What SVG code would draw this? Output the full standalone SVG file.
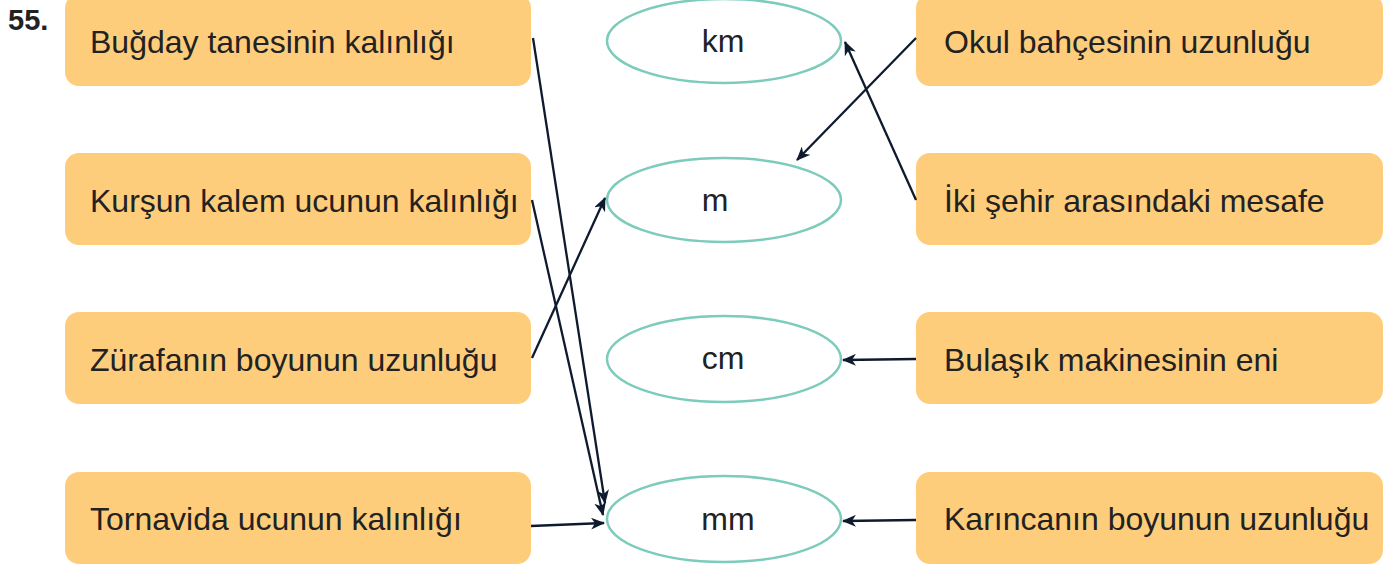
<svg xmlns="http://www.w3.org/2000/svg" width="1394" height="568" viewBox="0 0 1394 568">
<style>
.box{fill:#fecd7c;}
.lbl{font-family:"Liberation Sans",Arial,sans-serif;font-size:32px;fill:#222;}
.ell{fill:#fff;stroke:#7ccbbb;stroke-width:2.5;}
.unit{font-family:"Liberation Sans",Arial,sans-serif;font-size:32px;fill:#222;text-anchor:middle;}
.con{stroke:#0e1a2e;stroke-width:2.3;fill:none;marker-end:url(#arr);}
</style>
<defs>
<marker id="arr" viewBox="0 0 14 12" refX="13" refY="6" markerWidth="14" markerHeight="12" markerUnits="userSpaceOnUse" orient="auto">
<path d="M0,0 L14,6 L0,12 L4,6 Z" fill="#0e1a2e"/>
</marker>
</defs>
<text x="8" y="30" font-family="Liberation Sans,Arial,sans-serif" font-size="29" font-weight="bold" fill="#222">55.</text>
<g id="l1"><rect class="box" x="65" y="-6" width="466" height="92" rx="14"/><text class="lbl" x="90" y="53">Buğday tanesinin kalınlığı</text></g>
<g id="l2"><rect class="box" x="65" y="153" width="466" height="92" rx="14"/><text class="lbl" x="90" y="212">Kurşun kalem ucunun kalınlığı</text></g>
<g id="l3"><rect class="box" x="65" y="312" width="466" height="92" rx="14"/><text class="lbl" x="90" y="371">Zürafanın boyunun uzunluğu</text></g>
<g id="l4"><rect class="box" x="65" y="472" width="466" height="92" rx="14"/><text class="lbl" x="90" y="530">Tornavida ucunun kalınlığı</text></g>
<g id="r1"><rect class="box" x="916" y="-6" width="467" height="92" rx="14"/><text class="lbl" x="944" y="53">Okul bahçesinin uzunluğu</text></g>
<g id="r2"><rect class="box" x="916" y="153" width="467" height="92" rx="14"/><text class="lbl" x="944" y="212">İki şehir arasındaki mesafe</text></g>
<g id="r3"><rect class="box" x="916" y="312" width="467" height="92" rx="14"/><text class="lbl" x="944" y="371">Bulaşık makinesinin eni</text></g>
<g id="r4"><rect class="box" x="916" y="472" width="467" height="92" rx="14"/><text class="lbl" x="944" y="530">Karıncanın boyunun uzunluğu</text></g>
<g id="km"><ellipse class="ell" cx="724" cy="41" rx="117" ry="42"/><text class="unit" x="723" y="52">km</text></g>
<g id="m"><ellipse class="ell" cx="724" cy="200" rx="117" ry="42"/><text class="unit" x="715" y="211">m</text></g>
<g id="cm"><ellipse class="ell" cx="724" cy="359" rx="117" ry="43"/><text class="unit" x="723" y="369">cm</text></g>
<g id="mm"><ellipse class="ell" cx="724" cy="519" rx="117" ry="43"/><text class="unit" x="728" y="530">mm</text></g>
<g id="connectors">
<line class="con" x1="533" y1="38" x2="605" y2="503"/>
<line class="con" x1="532" y1="200" x2="603" y2="515"/>
<line class="con" x1="532" y1="358" x2="605" y2="198"/>
<line class="con" x1="531" y1="526" x2="604" y2="523"/>
<line class="con" x1="916" y1="38" x2="797" y2="160"/>
<line class="con" x1="916" y1="200" x2="845" y2="42"/>
<line class="con" x1="916" y1="359" x2="843" y2="360"/>
<line class="con" x1="916" y1="520" x2="843" y2="521"/>
</g>
</svg>
